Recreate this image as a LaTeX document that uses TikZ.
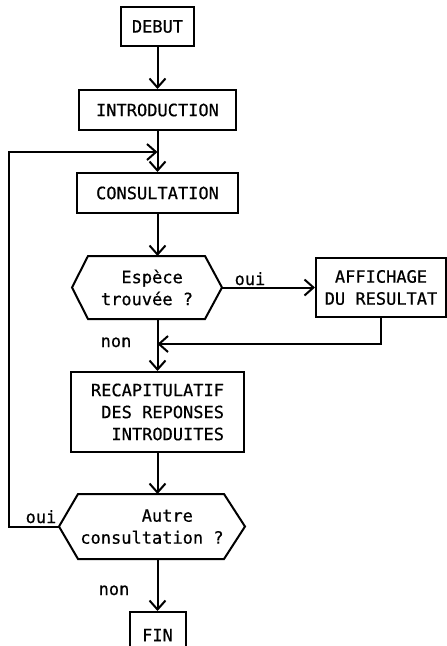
\documentclass[tikz,border=0pt]{standalone}
\usepackage{fontspec}
\setmonofont[FakeBold=0.6]{DejaVu Sans Mono}
\usetikzlibrary{arrows.meta,calc}
\begin{document}
\begin{tikzpicture}[x=1pt,y=-1pt, line width=2pt,
  font=\ttfamily\fontsize{17}{22}\selectfont,
  box/.style={draw, rectangle, inner sep=0pt, align=left},
  hexa/.style={rectangle, inner sep=0pt, align=left},
  arr/.style={-{Straight Barb[length=9pt,width=16pt]}},
  lbl/.style={anchor=base, inner sep=0pt}]
\useasboundingbox (0,0) rectangle (447,646);
% boxes
\node[box, minimum width=73pt, minimum height=39pt] (debut) at (157.5,26.5) {DEBUT};
\node[box, minimum width=157pt, minimum height=40pt] (intro) at (157.5,110) {INTRODUCTION};
\node[box, minimum width=161pt, minimum height=40pt] (consult) at (157.5,193) {CONSULTATION};
\node[hexa, minimum width=148pt, minimum height=61pt] (hex1) at (147,287.5) {\phantom{00}Espèce\\trouvée ?};
\draw (hex1.west) -- ($(hex1.north west)+(16,0)$) -- ($(hex1.north east)+(-17,0)$) -- (hex1.east)
  -- ($(hex1.south east)+(-17,0)$) -- ($(hex1.south west)+(16,0)$) -- cycle;
\node[box, minimum width=130pt, minimum height=59pt] (affich) at (381,287.5) {\phantom{0}AFFICHAGE\\DU RESULTAT};
\node[box, minimum width=173pt, minimum height=80pt] (recap) at (157.5,412) {RECAPITULATIF\\\phantom{0}DES REPONSES\\\phantom{00}INTRODUITES};
\node[hexa, minimum width=184pt, minimum height=63pt] (hex2) at (152,526.5) {\phantom{000000}Autre\\consultation ?};
\draw (hex2.west) -- ($(hex2.north west)+(19,0)$) -- ($(hex2.north east)+(-21,0)$) -- (hex2.east)
  -- ($(hex2.south east)+(-21,0)$) -- ($(hex2.south west)+(19,0)$) -- cycle;
\node[box, minimum width=56pt, minimum height=46pt] (fin) at (157.5,635) {FIN};
% coordinates
\coordinate (join) at (157.5,152);
\coordinate (loop) at (9,152);
\coordinate (merge) at (157.5,344);
% connectors
\draw[arr] (debut) -- (intro);
\draw[arr] (intro) -- (consult);
\draw[arr] (hex2.west) -| (loop) -- (join);
\draw[arr] (consult) -- (consult.south |- hex1.north);
\draw[arr] (hex1.east) -- (hex1.east -| affich.west);
\draw[arr] (hex1.south -| recap.north) -- (recap);
\draw[arr] (affich.south) |- (merge);
\draw[arr] (recap) -- (recap.south |- hex2.north);
\draw[arr] (hex2.south -| fin.north) -- (fin);
% labels
\node[lbl] (oui1) at (250,285) {oui};
\node[lbl] (non1) at (116,347) {non};
\node[lbl] (oui2) at (41,523) {oui};
\node[lbl] (non2) at (114,595) {non};
\end{tikzpicture}
\end{document}
